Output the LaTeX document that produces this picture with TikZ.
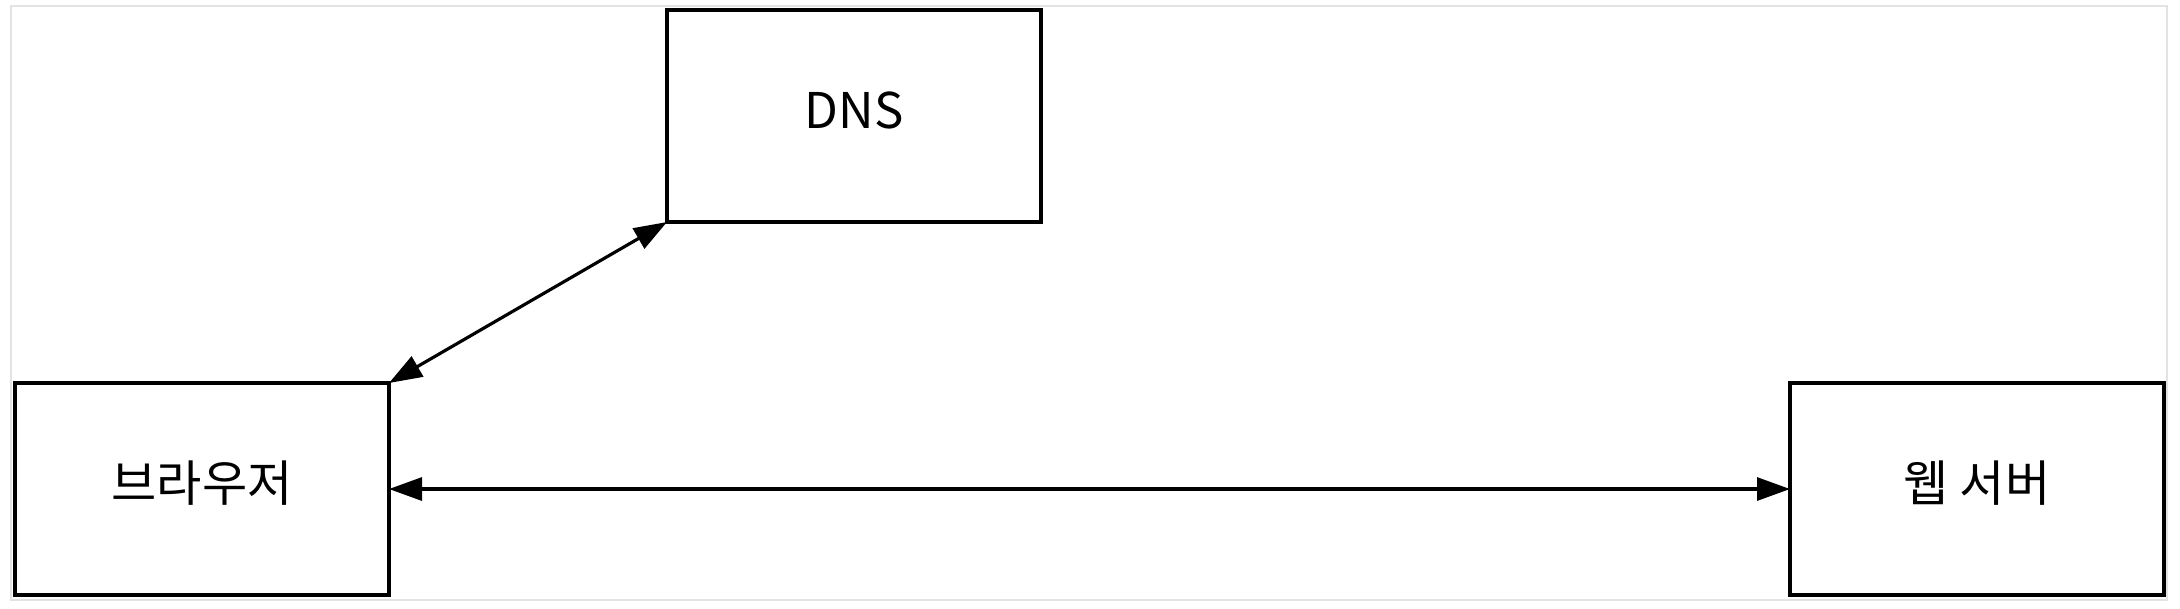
\documentclass[tikz,border=0pt]{standalone}
\usepackage{fontspec}
\setmainfont{Noto Sans CJK KR}
\usetikzlibrary{arrows.meta,positioning}

\begin{document}
\begin{tikzpicture}[>={Triangle[length=0.33cm,width=0.23cm]}, shorten >=0pt, node distance=1cm, align=center,
	box/.style={draw, line width=0.9pt, minimum width=3.74cm, minimum height=2.12cm, inner sep=0pt, outer sep=0pt, text height=0.40cm, text depth=0.16cm, font=\fontsize{14pt}{17pt}\selectfont}]
		\useasboundingbox (0,0) rectangle (21.8,-6.08);
		\draw[gray!22, line width=0.6pt] (0.11,-0.06) rectangle (21.67,-6.0);
		\node[box] (browser) at (2.02,-4.89) {브라우저};
		\node[box] [above right=1.61cm and 2.78cm of browser.north east, anchor=south west] (dns) {DNS};
		\node[box] [right=14.01cm of browser] (server) {웹 서버};
		\path[<->, line width=0.9pt]
			(browser.north east) edge (dns.south west)
			(browser) edge (server);
	\end{tikzpicture}
\end{document}
